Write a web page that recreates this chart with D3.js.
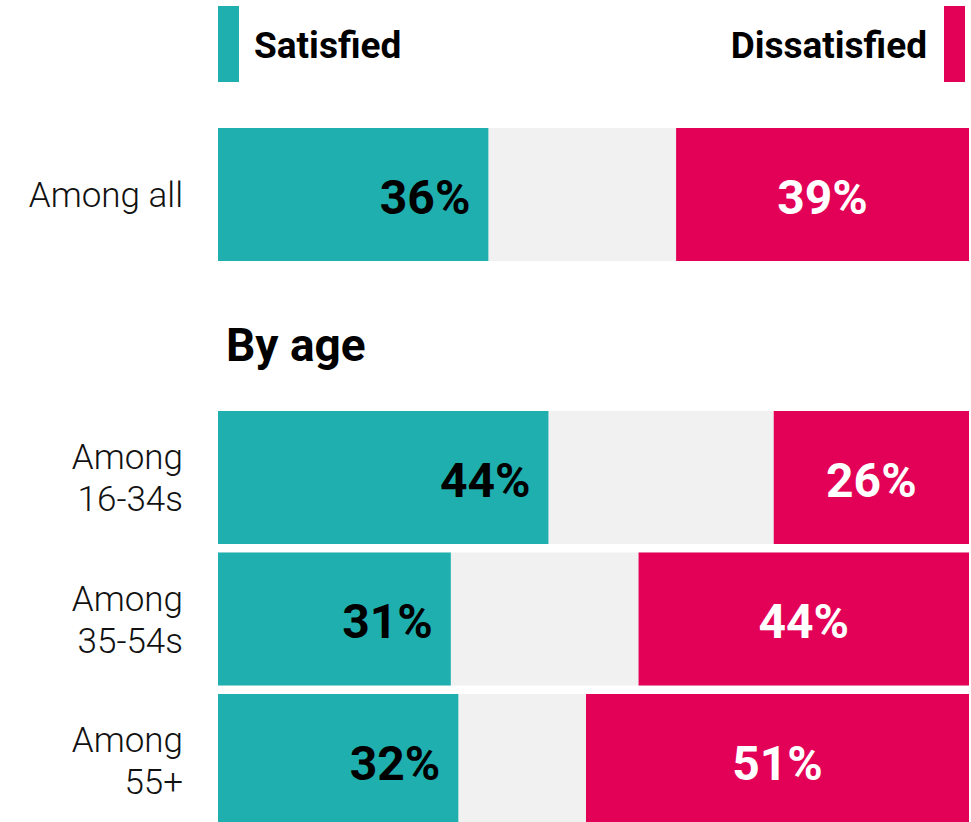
<!DOCTYPE html>
<html>
<head>
<meta charset="utf-8">
<script src="https://cdn.jsdelivr.net/npm/d3@7"></script>
<style>
  body { margin: 0; background: #fff; }
  svg { display: block; font-family: Roboto, "Noto Sans", sans-serif; }
</style>
</head>
<body>
<div id="vis"></div>
<script>
// rows, top to bottom ("" is the slot used by the "By age" heading)
const rows = ['all', '', '16-34', '35-54', '55+'];
const rowLabels = {
  'all': ['Among all'],
  '16-34': ['Among', '16-34s'],
  '35-54': ['Among', '35-54s'],
  '55+': ['Among', '55+']
};
const groups = ['all', '16-34', '35-54', '55+'];
const satisfied = [36, 44, 31, 32];
const dissatisfied = [39, 26, 44, 51];

const data = groups.map((g, i) => ({ group: g, sat: satisfied[i], dis: dissatisfied[i] }));

const width = 971, height = 822;
const teal = '#1fafae', red = '#e30157', grey = '#f1f1f1';

const svg = d3.select('#vis')
  .append('svg')
  .attr('width', width)
  .attr('height', height);

const x = d3.scaleLinear()
  .domain([0, 100])
  .range([218, 969]);

const y = d3.scaleBand()
  .domain(rows)
  .range([128, 827])
  .paddingInner(0.06);

// legend
svg.append('rect')
  .attr('x', 218).attr('y', 6)
  .attr('width', 21).attr('height', 76)
  .attr('fill', teal);
svg.append('text')
  .attr('x', 254).attr('y', 58)
  .attr('font-size', 37).attr('font-weight', 700)
  .text('Satisfied');

svg.append('rect')
  .attr('x', 944).attr('y', 6)
  .attr('width', 21).attr('height', 76)
  .attr('fill', red);
svg.append('text')
  .attr('x', 927).attr('y', 58)
  .attr('text-anchor', 'end')
  .attr('font-size', 37).attr('font-weight', 700)
  .text('Dissatisfied');

// heading
svg.append('text')
  .attr('x', 226).attr('y', 361)
  .attr('font-size', 46).attr('font-weight', 700)
  .text('By age');

const row = svg.selectAll('.row')
  .data(data)
  .enter()
  .append('g')
  .attr('class', 'row');

// background (neither)
row.append('rect')
  .attr('x', x(0))
  .attr('y', d => y(d.group))
  .attr('width', x(100) - x(0))
  .attr('height', y.bandwidth())
  .attr('fill', grey);

row.append('rect')
  .attr('x', x(0))
  .attr('y', d => y(d.group))
  .attr('width', d => x(d.sat) - x(0))
  .attr('height', y.bandwidth())
  .attr('fill', teal);

row.append('rect')
  .attr('x', d => x(100 - d.dis))
  .attr('y', d => y(d.group))
  .attr('width', d => x(100) - x(100 - d.dis))
  .attr('height', y.bandwidth())
  .attr('fill', red);

// value labels
row.append('text')
  .attr('x', d => x(d.sat) - 18)
  .attr('y', d => y(d.group) + y.bandwidth() / 2)
  .attr('dy', '0.4em')
  .attr('text-anchor', 'end')
  .attr('font-size', 48).attr('font-weight', 700)
  .attr('fill', '#000')
  .text(d => d.sat + '%');

row.append('text')
  .attr('x', d => (x(100 - d.dis) + x(100)) / 2)
  .attr('y', d => y(d.group) + y.bandwidth() / 2)
  .attr('dy', '0.4em')
  .attr('text-anchor', 'middle')
  .attr('font-size', 48).attr('font-weight', 700)
  .attr('fill', '#fff')
  .text(d => d.dis + '%');

// row labels
row.append('text')
  .attr('x', 183)
  .attr('text-anchor', 'end')
  .attr('font-size', 35).attr('font-weight', 300)
  .attr('fill', '#111')
  .each(function (d) {
    const lines = rowLabels[d.group];
    const mid = y(d.group) + y.bandwidth() / 2;
    const lh = 42;
    const top = mid - (lines.length - 1) * lh / 2;
    d3.select(this).selectAll('tspan')
      .data(lines)
      .enter()
      .append('tspan')
      .attr('x', 183)
      .attr('y', (l, i) => top + i * lh)
      .attr('dy', '0.36em')
      .text(l => l);
  });
</script>
</body>
</html>
